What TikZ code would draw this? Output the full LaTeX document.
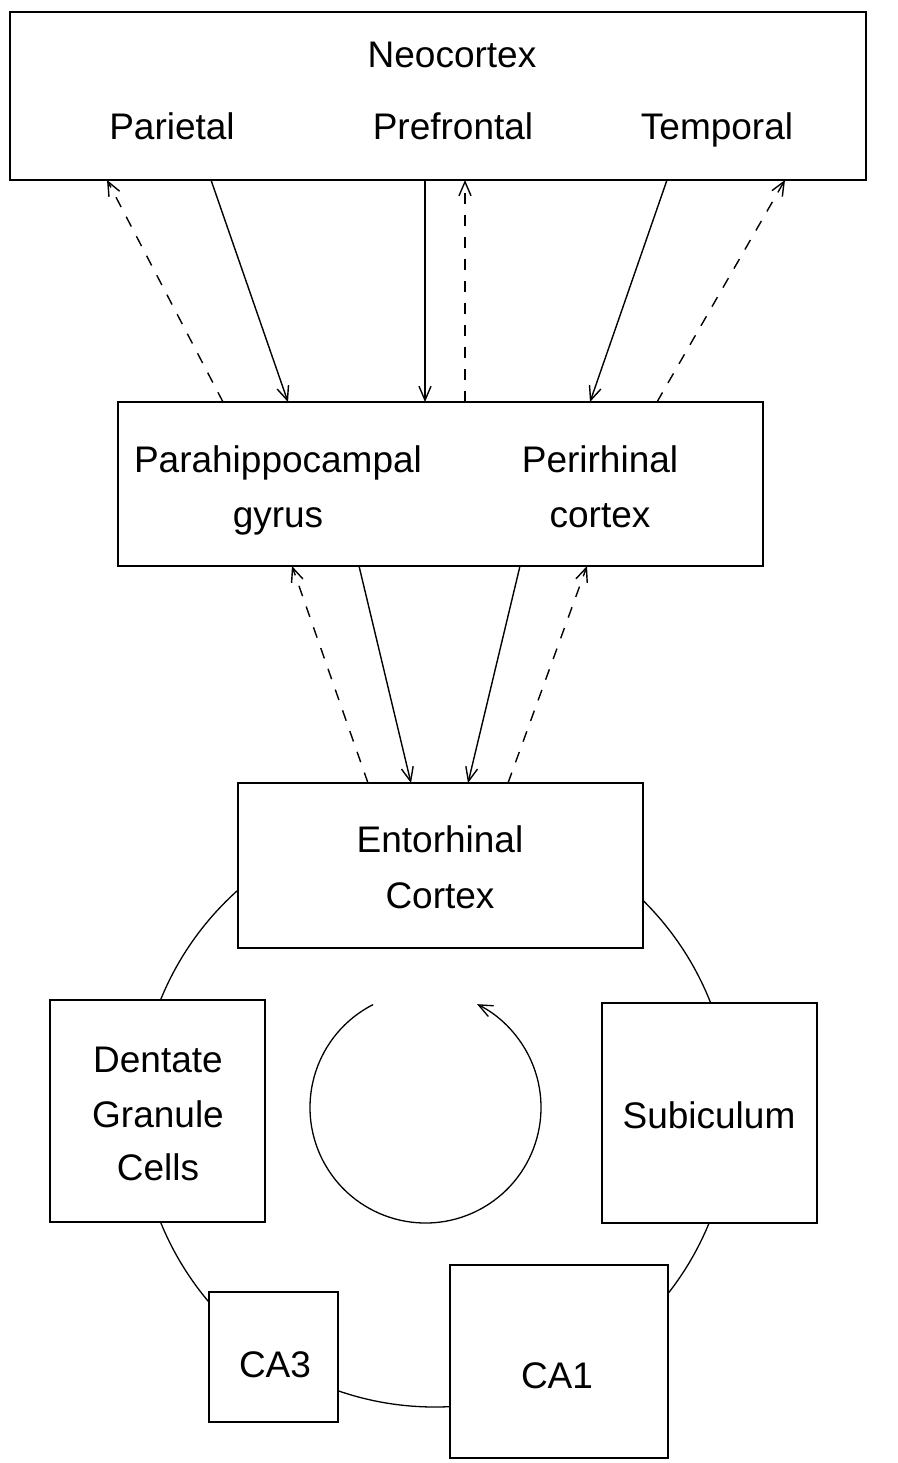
\documentclass[tikz,border=0pt]{standalone}
\usepackage{fontspec}
\setmainfont{Liberation Sans}
\usetikzlibrary{arrows.meta}
\begin{document}
\begin{tikzpicture}[x=1pt,y=-1pt,
  box/.style={draw, line width=2pt, fill=white, inner sep=0pt, outer sep=0pt},
  lbl/.style={font=\fontsize{37}{55}\selectfont, inner sep=0pt, anchor=base},
  fwd/.style={line width=1.4pt, -{Straight Barb[length=14pt,width=12pt,line width=1.4pt]}},
  bwd/.style={fwd, dash pattern=on 11pt off 11pt},
  ring/.style={line width=1.3pt}
]
\useasboundingbox (0,0) rectangle (897,1463);

% big ring behind the hippocampal boxes
\coordinate (ringc) at (435,1111);
\draw[ring] (ringc) circle[radius=296];

% boxes
\node[box, minimum width=856pt, minimum height=168pt] (neo) at (438,96) {};
\node[box, minimum width=645pt, minimum height=164pt] (para) at (440.5,484) {};
\node[box, minimum width=405pt, minimum height=165pt] (ento) at (440.5,865.5) {};
\node[box, minimum width=215pt, minimum height=222pt] (dent) at (157.5,1111) {};
\node[box, minimum width=215pt, minimum height=220pt] (subi) at (709.5,1113) {};
\node[box, minimum width=129pt, minimum height=130pt] (ca3) at (273.5,1357) {};
\node[box, minimum width=218pt, minimum height=193pt] (ca1) at (559,1361.5) {};

% labels
\node[lbl] (tneo) at (452,68) {Neocortex};
\node[lbl] (tpar) at (172,140) {Parietal};
\node[lbl] (tpre) at (453,140) {Prefrontal};
\node[lbl] (ttem) at (717,140) {Temporal};
\node[lbl] (tph1) at (278,472) {Parahippocampal};
\node[lbl] (tph2) at (278,527) {gyrus};
\node[lbl] (tpr1) at (600,472) {Perirhinal};
\node[lbl] (tpr2) at (600,527) {cortex};
\node[lbl] (ten1) at (440,852) {Entorhinal};
\node[lbl] (ten2) at (440,908) {Cortex};
\node[lbl] (tde1) at (158,1072) {Dentate};
\node[lbl] (tde2) at (158,1127) {Granule};
\node[lbl] (tde3) at (158,1180) {Cells};
\node[lbl] (tsub) at (709,1128) {Subiculum};
\node[lbl] (tca3) at (275,1377) {CA3};
\node[lbl] (tca1) at (557,1388) {CA1};

% neocortex <-> parahippocampal / perirhinal
\draw[bwd] (para.north -| 223,0) -- (neo.south -| 107,0);
\draw[fwd] (neo.south -| 211,0) -- (para.north -| 288,0);
\draw[fwd] (neo.south -| 425,0) -- (para.north -| 425,0);
\draw[bwd] (para.north -| 465,0) -- (neo.south -| 465,0);
\draw[fwd] (neo.south -| 667,0) -- (para.north -| 590,0);
\draw[bwd] (para.north -| 657,0) -- (neo.south -| 785,0);

% parahippocampal / perirhinal <-> entorhinal
\draw[bwd] (ento.north -| 368,0) -- (para.south -| 292,0);
\draw[fwd] (para.south -| 359,0) -- (ento.north -| 411,0);
\draw[fwd] (para.south -| 520,0) -- (ento.north -| 468,0);
\draw[bwd] (ento.north -| 508,0) -- (para.south -| 587,0);

% inner circular arrow
\coordinate (cyc) at (425.5,1107.5);
\draw[ring, -{Straight Barb[length=14pt,width=12pt,line width=1.3pt]}]
  (cyc) ++(-117:115.5) arc[start angle=-117, end angle=-423.5, radius=115.5];
\end{tikzpicture}
\end{document}
